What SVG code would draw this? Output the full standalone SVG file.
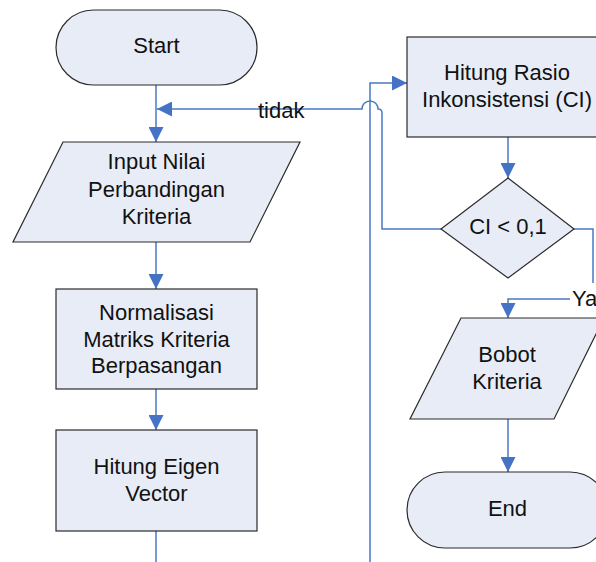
<svg xmlns="http://www.w3.org/2000/svg" width="596" height="562" viewBox="0 0 596 562">
  <style>
    .shape { fill: #E8ECF7; stroke: #2b2b2b; stroke-width: 1.2; }
    .conn { fill: none; stroke: #4A78C2; stroke-width: 1.5; }
    .label { font-family: "Liberation Sans", Arial, sans-serif; font-size: 22px; fill: #111; text-anchor: middle; }
    .tag { font-family: "Liberation Sans", Arial, sans-serif; font-size: 22px; fill: #111; }
  </style>
  <defs>
    <marker id="arrow" viewBox="0 0 10 10" refX="10" refY="5" markerUnits="userSpaceOnUse" markerWidth="15" markerHeight="15" orient="auto">
      <path d="M0,0 L10,5 L0,10 z" fill="#4472C4"/>
    </marker>
  </defs>
  <rect width="596" height="562" fill="#ffffff"/>

  <!-- connectors -->
  <g id="connectors">
    <path class="conn" d="M156,85 V142" marker-end="url(#arrow)"/>
    <path class="conn" d="M156,242 V289" marker-end="url(#arrow)"/>
    <path class="conn" d="M156,389 V430" marker-end="url(#arrow)"/>
    <path class="conn" d="M156,531 V562"/>
    <path class="conn" d="M370,562 V83 H407" marker-end="url(#arrow)"/>
    <path class="conn" d="M508,137 V178" marker-end="url(#arrow)"/>
    <path class="conn" d="M441,229 H382 V113 Q382,109 378,109 A8,8 0 0 0 362,109 H157" marker-end="url(#arrow)"/>
    <path class="conn" d="M574,229 H593 V283"/>
    <path class="conn" d="M570,299 H508 V318" marker-end="url(#arrow)"/>
    <path class="conn" d="M508,419 V472" marker-end="url(#arrow)"/>
    <text class="tag" x="258" y="118">tidak</text>
    <text class="tag" x="572" y="306">Ya</text>
  </g>

  <g id="start">
    <rect class="shape" x="56" y="10" width="201" height="75" rx="37.5" ry="37.5"/>
    <text class="label" x="156.5" y="53">Start</text>
  </g>

  <g id="input-nilai">
    <polygon class="shape" points="63,142 300,142 250,242 13,242"/>
    <text class="label" x="156.5" y="169">Input Nilai</text>
    <text class="label" x="156.5" y="197">Perbandingan</text>
    <text class="label" x="156.5" y="224">Kriteria</text>
  </g>

  <g id="normalisasi">
    <rect class="shape" x="56" y="289" width="201" height="100"/>
    <text class="label" x="156.5" y="320">Normalisasi</text>
    <text class="label" x="156.5" y="347">Matriks Kriteria</text>
    <text class="label" x="156.5" y="373">Berpasangan</text>
  </g>

  <g id="eigen-vector">
    <rect class="shape" x="56" y="430" width="201" height="101"/>
    <text class="label" x="156.5" y="474">Hitung Eigen</text>
    <text class="label" x="156.5" y="501">Vector</text>
  </g>

  <g id="rasio-inkonsistensi">
    <rect class="shape" x="407" y="37" width="201" height="100"/>
    <text class="label" x="507" y="80">Hitung Rasio</text>
    <text class="label" x="507" y="107">Inkonsistensi (CI)</text>
  </g>

  <g id="cek-ci">
    <polygon class="shape" points="508,178 574,229 508,278 441,229"/>
    <text class="label" x="508" y="234">CI &lt; 0,1</text>
  </g>

  <g id="bobot-kriteria">
    <polygon class="shape" points="461,318 604,318 554,419 410,419"/>
    <text class="label" x="507" y="362">Bobot</text>
    <text class="label" x="507" y="389">Kriteria</text>
  </g>

  <g id="end">
    <rect class="shape" x="407" y="472" width="201" height="76" rx="38" ry="38"/>
    <text class="label" x="507.5" y="516">End</text>
  </g>
</svg>
